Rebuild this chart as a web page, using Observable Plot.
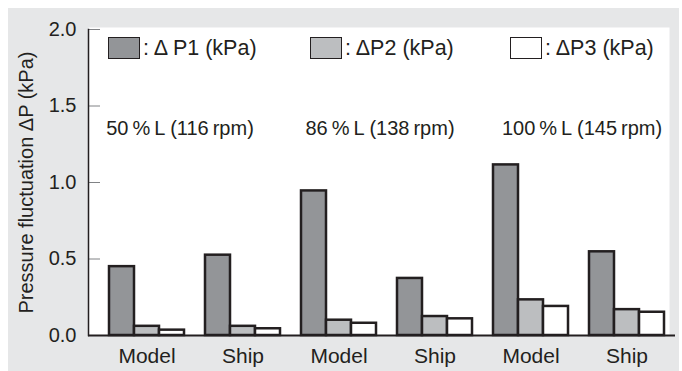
<!DOCTYPE html>
<html>
<head>
<meta charset="utf-8">
<script src="https://cdn.jsdelivr.net/npm/d3@7"></script>
<script src="https://cdn.jsdelivr.net/npm/@observablehq/plot@0.6"></script>
<style>
  html, body { margin: 0; padding: 0; background: #ffffff; }
  #wrap { position: relative; width: 682px; height: 371px; overflow: hidden; font-family: "Liberation Sans", Arial, Helvetica, sans-serif; }
  #bg { position: absolute; left: 8px; top: 8px; width: 671px; height: 363px; background: #e6e7e8; }
  #chart { position: absolute; left: 0; top: 0; }
  #chart svg { background: transparent !important; }
  .leg { position: absolute; top: 37px; height: 22px; display: flex; align-items: center; font-size: 21.5px; color: #231f20; white-space: nowrap; }
  .sw { box-sizing: border-box; width: 32px; height: 22px; border: 1.5px solid #231f20; margin-right: 3px; }
</style>
</head>
<body>
<div id="wrap">
  <div id="bg"></div>
  <div id="chart"></div>
</div>
<script>
// ---- data ----
const xLabels = ["Model", "Ship", "Model", "Ship", "Model", "Ship"];
const p1 = [0.45, 0.525, 0.945, 0.373, 1.115, 0.547];
const p2 = [0.06, 0.06, 0.10, 0.124, 0.233, 0.169];
const p3 = [0.035, 0.044, 0.08, 0.109, 0.19, 0.152];
const seriesNames = [": \u0394 P1 (kPa)", ": \u0394P2 (kPa)", ": \u0394P3 (kPa)"];
const loadLabels = ["50\u2009%\u2009L (116\u2009rpm)", "86\u2009%\u2009L (138\u2009rpm)", "100\u2009%\u2009L (145\u2009rpm)"];
const loadGroupIndex = [0, 2, 4];
const loadLevel = [1.35, 1.35, 1.35];
const yTicks = [0, 0.5, 1.0, 1.5, 2.0];

const idx = xLabels.map((_, i) => i);
const rows1 = idx.map(i => ({g: i, v: p1[i]}));
const rows2 = idx.map(i => ({g: i, v: p2[i]}));
const rows3 = idx.map(i => ({g: i, v: p3[i]}));
const loads = loadLabels.map((t, i) => ({g: loadGroupIndex[i], y: loadLevel[i], t}));

const ink = "#231f20";
const fills = ["#939598", "#bcbec0", "#ffffff"];
const fontFam = "'Liberation Sans', Arial, Helvetica, sans-serif";

const barOpts = (k) => ({
  x: "g", y: "v", fill: fills[k], stroke: ink, strokeWidth: 2.5,
  insetLeft: k * 25, insetRight: (2 - k) * 25
});

const loadDx = [33, 41, 51];

const plot = Plot.plot({
  width: 682,
  height: 371,
  marginLeft: 88,
  marginRight: 7,
  marginTop: 29,
  marginBottom: 36,
  style: {background: "transparent", fontFamily: fontFam, fontSize: "20px", color: ink},
  x: {type: "band", domain: idx, paddingInner: 0.22, paddingOuter: 0.11, insetLeft: 10, axis: null},
  y: {domain: [0, 2], axis: null},
  marks: [
    Plot.frame({fill: "white", stroke: null, insetTop: -2, insetRight: 6}),
    Plot.axisY(yTicks, {tickSize: 12, dx: 12, tickFormat: () => "", stroke: "#808285", label: null}),
    Plot.axisY(yTicks, {tickSize: 0, tickPadding: 12, tickFormat: d => d.toFixed(1), fontSize: 20, fill: ink,
      label: "Pressure fluctuation \u0394P (kPa)", labelAnchor: "center", labelOffset: 70, labelArrow: "none"}),
    Plot.axisX(idx, {tickSize: 0, tickPadding: 13, tickFormat: i => xLabels[i], fontSize: 21, fill: ink, label: null}),
    Plot.barY(rows1, barOpts(0)),
    Plot.barY(rows2, barOpts(1)),
    Plot.barY(rows3, barOpts(2)),
    Plot.frame({anchor: "left", stroke: ink, strokeWidth: 1.5}),
    Plot.ruleY([0], {stroke: ink, strokeWidth: 2}),
    ...loads.map((d, i) => Plot.text([d], {x: "g", y: "y", text: "t", dx: loadDx[i], fontSize: 20, fill: ink}))
  ]
});
document.getElementById("chart").appendChild(plot);

// legend (inside plot area, top)
const wrap = document.getElementById("wrap");
const legLeft = [108, 310, 510];
seriesNames.forEach((name, k) => {
  const d = document.createElement("div");
  d.className = "leg";
  d.style.left = legLeft[k] + "px";
  const sw = document.createElement("div");
  sw.className = "sw";
  sw.style.background = fills[k];
  const tx = document.createElement("span");
  tx.textContent = name;
  d.appendChild(sw);
  d.appendChild(tx);
  wrap.appendChild(d);
});
</script>
</body>
</html>
